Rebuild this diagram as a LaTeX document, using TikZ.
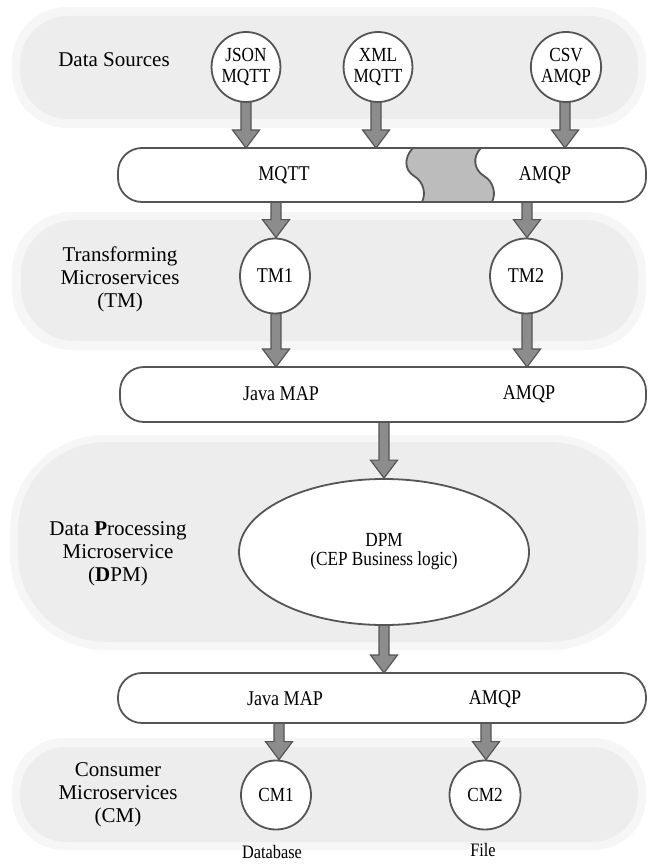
\documentclass[tikz,border=0pt]{standalone}
\usepackage{fontspec}
\setmainfont{Liberation Serif}
\newfontfamily\condfont[FakeStretch=0.86]{Liberation Serif}
\usetikzlibrary{shapes.geometric,calc}
\definecolor{bandout}{RGB}{246,246,246}
\definecolor{bandin}{RGB}{237,237,237}
\definecolor{edgecol}{RGB}{85,85,85}
\definecolor{arrowfill}{RGB}{140,140,140}
\definecolor{puzzlefill}{RGB}{188,188,188}
\pgfdeclarelayer{bands}
\pgfdeclarelayer{arrows}
\pgfsetlayers{bands,arrows,main}
\newcommand\fatarrow[2]{%
  \draw[fatarr] let \p1=(#1), \p2=(#2) in
    (\x1-5pt,\y1) -- (\x1-5pt,\y2+18pt) -- (\x1-13.5pt,\y2+18pt) -- (\x1,\y2)
    -- (\x1+13.5pt,\y2+18pt) -- (\x1+5pt,\y2+18pt) -- (\x1+5pt,\y1) -- cycle;}
\begin{document}
\begin{tikzpicture}[x=1pt,y=-1pt,
  src/.style={ellipse, draw=edgecol, line width=1.8pt, fill=white, inner sep=0pt,
    align=center, font=\condfont\fontsize{20}{21}\selectfont},
  bus/.style={draw=edgecol, line width=1.8pt, fill=white, rounded corners=24pt,
    inner sep=0pt, outer sep=0pt, anchor=north west},
  lbl/.style={align=center, font=\fontsize{21}{23}\selectfont, inner sep=0pt},
  buslbl/.style={font=\condfont\fontsize{21}{23}\selectfont, inner sep=0pt},
  fatarr/.style={fill=arrowfill, draw=edgecol, line width=1.2pt, line join=miter}
]
\useasboundingbox (0,0) rectangle (648,864);

% ---------- bands ----------
\begin{pgfonlayer}{bands}
  \fill[bandout, rounded corners=55pt] (12,7) rectangle (646,128);
  \fill[bandin, rounded corners=48pt] (20,16) rectangle (638,119);
  \fill[bandout, rounded corners=60pt] (12,212) rectangle (646,350);
  \fill[bandin, rounded corners=54pt] (21,220) rectangle (638,341);
  \fill[bandout, rounded corners=95pt] (10,435) rectangle (646,650);
  \fill[bandin, rounded corners=88pt] (18,442) rectangle (638,642);
  \fill[bandout, rounded corners=52pt] (12,738) rectangle (646,850);
  \fill[bandin, rounded corners=46pt] (20,747) rectangle (638,842);
\end{pgfonlayer}

% ---------- band labels ----------
\node[lbl] (lds) at (114,60) {Data Sources};
\node[lbl] (ltm) at (120,279) {Transforming\\Microservices\\(TM)};
\node[lbl] (ldpm) at (118,554) {Data \textbf{P}rocessing\\Microservice\\(\textbf{D}PM)};
\node[lbl] (lcm) at (118,795) {Consumer\\Microservices\\(CM)};

% ---------- sources ----------
\node[src, minimum width=66pt, minimum height=70pt] (json) at (246,67) {JSON\\MQTT};
\node[src, minimum width=68pt, minimum height=70pt] (xml) at (378,67) {XML\\MQTT};
\node[src, minimum width=66pt, minimum height=70pt] (csv) at (566,67) {CSV\\AMQP};

% ---------- bus 1 ----------
\node[bus, minimum width=528pt, minimum height=54pt] (bus1) at (118,148) {};
\draw[fill=puzzlefill, draw=edgecol, line width=1.8pt]
  (413,148) .. controls (404,157) and (404,170) .. (414,176)
  .. controls (424,182) and (426,194) .. (422,202) -- (492,202)
  .. controls (496,194) and (494,182) .. (484,176)
  .. controls (474,170) and (472,157) .. (481,148) -- cycle;
\node[buslbl] (b1mqtt) at (284,175) {MQTT};
\node[buslbl] (b1amqp) at (545,175) {AMQP};

% ---------- transforming ----------
\node[src, minimum width=70pt, minimum height=75pt, font=\condfont\fontsize{21}{23}\selectfont] (tm1) at (275,276) {TM1};
\node[src, minimum width=72pt, minimum height=75pt, font=\condfont\fontsize{21}{23}\selectfont] (tm2) at (526,276) {TM2};

% ---------- bus 2 ----------
\node[bus, minimum width=526pt, minimum height=55pt] (bus2) at (120,367) {};
\node[buslbl] (b2java) at (281,394) {Java MAP};
\node[buslbl] (b2amqp) at (529,394) {AMQP};

% ---------- DPM ----------
\node[src, minimum width=290pt, minimum height=146pt, font=\condfont\fontsize{20}{19}\selectfont] (dpm) at (384,552) {DPM\\(CEP Business logic)};

% ---------- bus 3 ----------
\node[bus, minimum width=528pt, minimum height=50pt] (bus3) at (118,673) {};
\node[buslbl] (b3java) at (285,699) {Java MAP};
\node[buslbl] (b3amqp) at (495,699) {AMQP};

% ---------- consumers ----------
\node[src, minimum width=70pt, minimum height=69pt] (cm1) at (276,795) {CM1};
\node[src, minimum width=71pt, minimum height=69pt] (cm2) at (485,795) {CM2};
\node[buslbl, font=\condfont\fontsize{19}{21}\selectfont] (db) at (272,852) {Database};
\node[buslbl, font=\condfont\fontsize{19}{21}\selectfont] (file) at (483,850) {File};

% ---------- arrows ----------
\begin{pgfonlayer}{arrows}
  \fatarrow{$(json.south)+(0,-4)$}{json.south |- bus1.north}
  \fatarrow{$(xml.south)+(-2,-4)$}{$(xml.south |- bus1.north)+(-2,0)$}
  \fatarrow{$(csv.south)+(-1,-4)$}{$(csv.south |- bus1.north)+(-1,0)$}
  \fatarrow{$(tm1.north |- bus1.south)+(1,-4)$}{$(tm1.north)+(1,0)$}
  \fatarrow{$(tm2.north |- bus1.south)+(1,-4)$}{$(tm2.north)+(1,0)$}
  \fatarrow{$(tm1.south)+(1,-4)$}{$(tm1.south |- bus2.north)+(1,0)$}
  \fatarrow{$(tm2.south)+(1,-4)$}{$(tm2.south |- bus2.north)+(1,0)$}
  \fatarrow{$(dpm.north |- bus2.south)+(0,-4)$}{dpm.north}
  \fatarrow{$(dpm.south)+(0,-4)$}{dpm.south |- bus3.north}
  \fatarrow{$(cm1.north |- bus3.south)+(3,-4)$}{$(cm1.north)+(3,0)$}
  \fatarrow{$(cm2.north |- bus3.south)+(1,-4)$}{$(cm2.north)+(1,0)$}
\end{pgfonlayer}
\end{tikzpicture}
\end{document}
